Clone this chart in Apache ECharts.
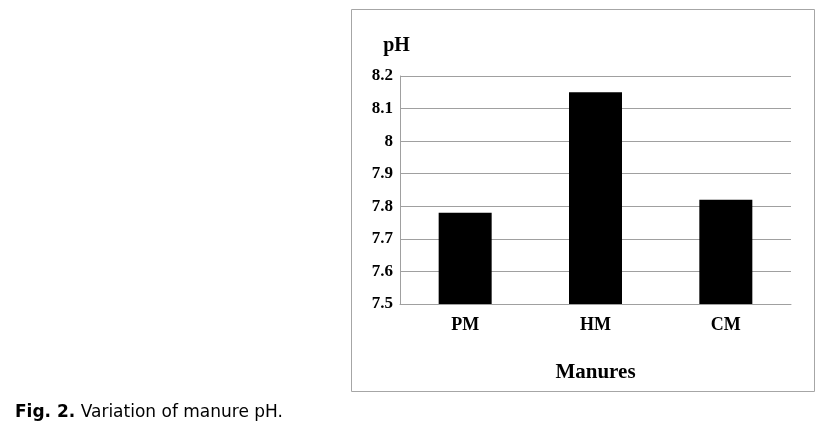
<!DOCTYPE html>
<html>
<head>
<meta charset="utf-8">
<script src="https://cdn.jsdelivr.net/npm/echarts@6/dist/echarts.min.js"></script>
<style>
  html, body { margin: 0; padding: 0; background: #fff; }
  #chart { width: 833px; height: 438px; }
</style>
</head>
<body>
<div id="chart"></div>
<script>
// data
var manures = ['PM', 'HM', 'CM'];
var phValues = [7.78, 8.15, 7.82];
var yMin = 7.5;
var yMax = 8.2;
var yStep = 0.1;

var serif = '"Liberation Serif", "Times New Roman", serif';
var chart = echarts.init(document.getElementById('chart'));

chart.setOption({
  animation: false,
  backgroundColor: '#fff',
  title: {
    text: '{b|Fig. 2.} Variation of manure pH.',
    left: 10,
    top: 399,
    textStyle: {
      fontFamily: '"DejaVu Sans", Verdana, sans-serif',
      fontSize: 17,
      fontWeight: 'normal',
      color: '#000',
      rich: {
        b: { fontFamily: '"DejaVu Sans", Verdana, sans-serif', fontSize: 17, fontWeight: 'bold', color: '#000' }
      }
    }
  },
  graphic: [
    {
      type: 'rect',
      shape: { x: 351.5, y: 9.5, width: 463, height: 382 },
      style: { fill: 'none', stroke: '#a6a6a6', lineWidth: 1 },
      silent: true
    }
  ],
  grid: {
    left: 400,
    top: 76,
    width: 391,
    height: 228,
    containLabel: false
  },
  xAxis: {
    type: 'category',
    data: manures,
    name: 'Manures',
    nameLocation: 'middle',
    nameGap: 58,
    nameTextStyle: { fontFamily: serif, fontSize: 21, fontWeight: 'bold', color: '#000' },
    axisLine: { lineStyle: { color: '#a0a0a0', width: 1 } },
    axisTick: { show: false },
    axisLabel: { fontFamily: serif, fontSize: 18, fontWeight: 'bold', color: '#000', margin: 12 }
  },
  yAxis: {
    type: 'value',
    min: yMin,
    max: yMax,
    interval: yStep,
    name: 'pH',
    nameLocation: 'end',
    nameGap: 20,
    nameTextStyle: { fontFamily: serif, fontSize: 20, fontWeight: 'bold', color: '#000', align: 'center', padding: [0, 7, 0, 0] },
    axisLine: { show: true, lineStyle: { color: '#a0a0a0', width: 1 } },
    axisTick: { show: false },
    axisLabel: {
      fontFamily: serif, fontSize: 17, fontWeight: 'bold', color: '#000', margin: 7,
      formatter: function (v) { return String(Math.round(v * 10) / 10); }
    },
    splitLine: { lineStyle: { color: '#a0a0a0', width: 1 } }
  },
  series: [
    {
      type: 'bar',
      data: phValues,
      barWidth: 53,
      itemStyle: { color: '#000' }
    }
  ]
});
</script>
</body>
</html>
